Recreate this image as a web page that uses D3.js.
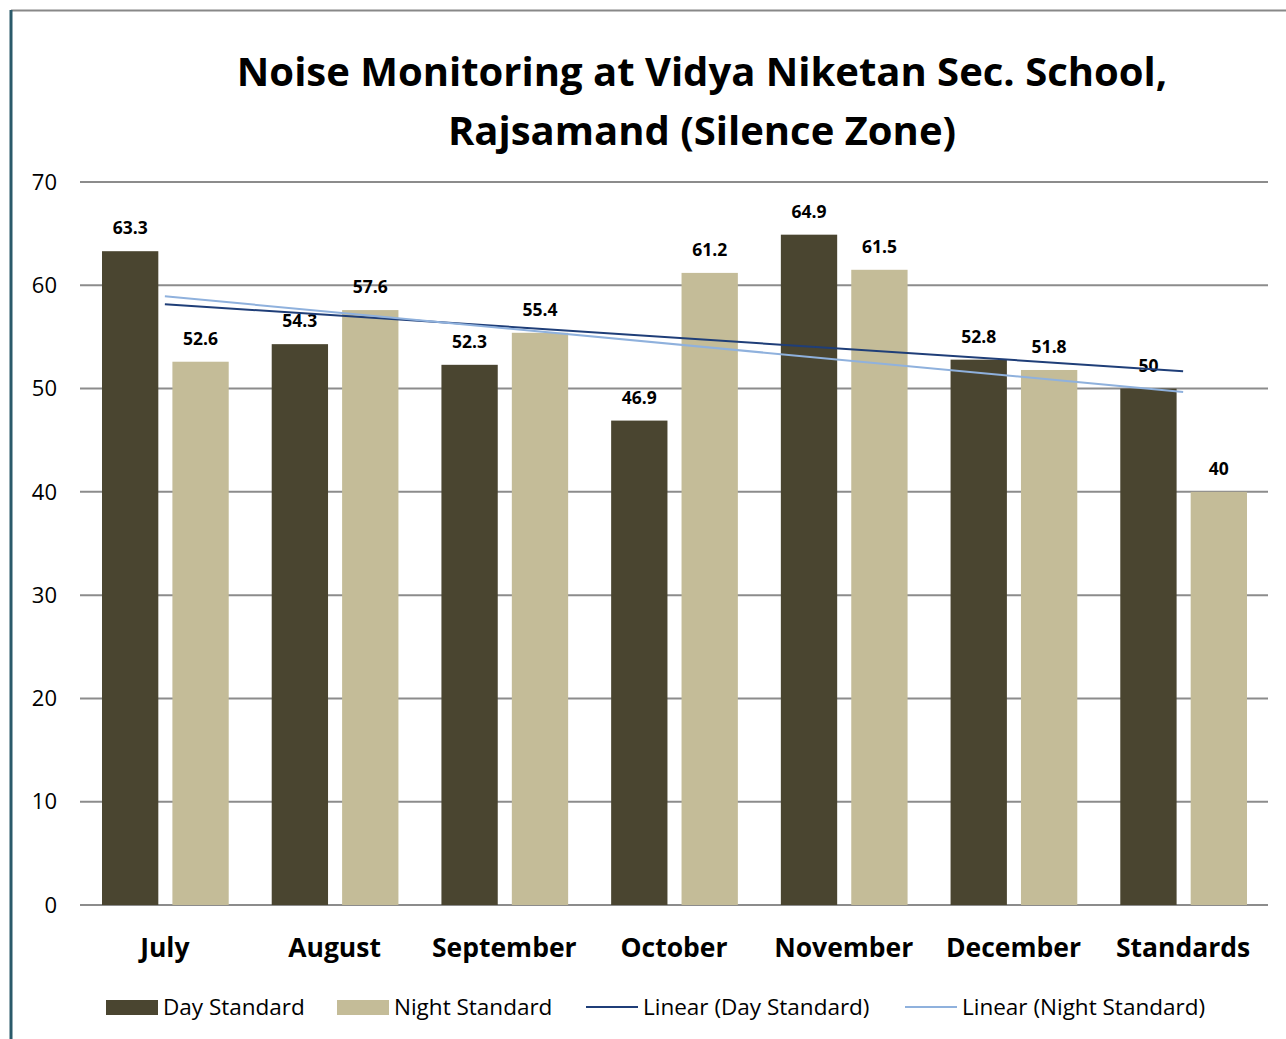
<!DOCTYPE html>
<html>
<head>
<meta charset="utf-8">
<script src="https://cdn.jsdelivr.net/npm/d3@7"></script>
<style>
  body { margin: 0; background: #fff; }
  text { font-family: "Open Sans", Lato, sans-serif; }
</style>
</head>
<body>
<svg width="1286" height="1039"></svg>
<script>
// chart data
let months = ["July", "August", "September", "October", "November", "December", "Standards"];
let dayValues = [63.3, 54.3, 52.3, 46.9, 64.9, 52.8, 50];
let nightValues = [52.6, 57.6, 55.4, 61.2, 61.5, 51.8, 40];
let yTicks = [0, 10, 20, 30, 40, 50, 60, 70];
let seriesNames = ["Day Standard", "Night Standard"];

let dayColor = "#4a4530";
let nightColor = "#c4bc98";
let dayTrendColor = "#1f3e78";
let nightTrendColor = "#8fb1dd";

let svg = d3.select("svg");

// frame border
svg.append("line").attr("x1", 11).attr("x2", 1286).attr("y1", 10.5).attr("y2", 10.5)
  .attr("stroke", "#888").attr("stroke-width", 2);
svg.append("line").attr("x1", 11).attr("x2", 11).attr("y1", 10).attr("y2", 1039)
  .attr("stroke", "#2a5a6a").attr("stroke-width", 3);

// title
let title = svg.append("text").attr("text-anchor", "middle")
  .style("font-weight", "bold").style("font-size", "40px");
title.append("tspan").attr("x", 702).attr("y", 86).text("Noise Monitoring at Vidya Niketan Sec. School,");
title.append("tspan").attr("x", 702).attr("y", 145).text("Rajsamand (Silence Zone)");

let margin = { left: 80, right: 18, top: 182, bottom: 134 };
let plotRight = 1286 - margin.right;
let plotBottom = 1039 - margin.bottom;

let x = d3.scaleBand().domain(months).range([margin.left, plotRight]);
let y = d3.scaleLinear().domain([0, 70]).range([plotBottom, margin.top]);
let x1 = d3.scaleBand().domain(seriesNames).range([22, x.bandwidth() - 21]).paddingInner(0.2);

// gridlines
svg.append("g").selectAll("line").data(yTicks).enter().append("line")
  .attr("x1", margin.left).attr("x2", plotRight)
  .attr("y1", d => y(d)).attr("y2", d => y(d))
  .attr("stroke", "#8c8c8c").attr("stroke-width", 2);

// y tick labels
svg.append("g").selectAll("text").data(yTicks).enter().append("text")
  .attr("x", 57).attr("y", d => y(d)).attr("dy", "0.35em")
  .attr("text-anchor", "end").style("font-size", "22px").text(d => d);

// bars
let groups = svg.append("g").selectAll("g").data(months).enter().append("g")
  .attr("transform", d => "translate(" + x(d) + ",0)");

let barData = (m, i) => [
  { s: seriesNames[0], v: dayValues[i], c: dayColor },
  { s: seriesNames[1], v: nightValues[i], c: nightColor }
];

groups.selectAll("rect").data(barData).enter().append("rect")
  .attr("x", d => x1(d.s)).attr("width", x1.bandwidth())
  .attr("y", d => y(d.v)).attr("height", d => plotBottom - y(d.v))
  .attr("fill", d => d.c);

// trend lines (least squares over category index)
function trend(vals) {
  let n = vals.length, xs = d3.range(1, n + 1);
  let mx = d3.mean(xs), my = d3.mean(vals);
  let sxy = d3.sum(xs, (xi, i) => (xi - mx) * (vals[i] - my));
  let sxx = d3.sum(xs, xi => (xi - mx) * (xi - mx));
  let b = sxy / sxx, a = my - b * mx;
  return [[months[0], a + b], [months[n - 1], a + b * n]];
}
let line = d3.line().x(d => x(d[0]) + x.bandwidth() / 2).y(d => y(d[1]));
svg.append("path").datum(trend(dayValues)).attr("d", line)
  .attr("fill", "none").attr("stroke", dayTrendColor).attr("stroke-width", 2);
svg.append("path").datum(trend(nightValues)).attr("d", line)
  .attr("fill", "none").attr("stroke", nightTrendColor).attr("stroke-width", 2);

// value labels
groups.selectAll("text.val").data(barData).enter().append("text")
  .attr("class", "val")
  .attr("x", d => x1(d.s) + x1.bandwidth() / 2).attr("y", d => y(d.v) - 17)
  .attr("text-anchor", "middle").style("font-weight", "bold").style("font-size", "17.5px")
  .text(d => d.v);

// x labels
svg.append("g").selectAll("text").data(months).enter().append("text")
  .attr("x", d => x(d) + x.bandwidth() / 2).attr("y", 957)
  .attr("text-anchor", "middle").style("font-weight", "bold").style("font-size", "26.5px")
  .text(d => d);

// legend
let legend = [
  { name: "Day Standard", type: "rect", c: dayColor, x: 106 },
  { name: "Night Standard", type: "rect", c: nightColor, x: 337 },
  { name: "Linear (Day Standard)", type: "line", c: dayTrendColor, x: 586 },
  { name: "Linear (Night Standard)", type: "line", c: nightTrendColor, x: 905 }
];
let lg = svg.append("g").selectAll("g").data(legend).enter().append("g")
  .attr("transform", d => "translate(" + d.x + ",1007)");
lg.filter(d => d.type === "rect").append("rect")
  .attr("x", 0).attr("y", -7).attr("width", 52).attr("height", 15).attr("fill", d => d.c);
lg.filter(d => d.type === "line").append("line")
  .attr("x1", 0).attr("x2", 52).attr("y1", 0).attr("y2", 0)
  .attr("stroke", d => d.c).attr("stroke-width", 2);
lg.append("text").attr("x", 57).attr("dy", "0.35em")
  .style("font-size", "22.5px").text(d => d.name);
</script>
</body>
</html>
